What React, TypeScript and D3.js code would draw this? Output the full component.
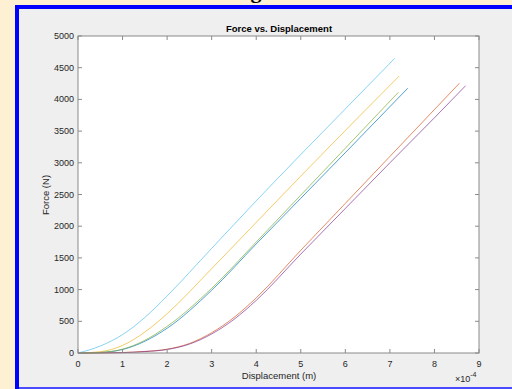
import React from "react";
import * as d3 from "d3";

// displacement in units of 1e-4 m, force in N
const cyanX = [0, 0.5, 1, 1.5, 2, 3, 4, 5, 6, 7.11];
const cyanY = [0, 110, 290, 560, 900, 1650, 2400, 3130, 3850, 4648];
const yellowX = [0, 0.5, 1, 1.5, 2, 3, 4, 5, 6, 7.21];
const yellowY = [0, 20, 120, 330, 620, 1330, 2060, 2790, 3510, 4369];
const greenX = [0, 0.5, 1, 1.5, 2, 3, 4, 5, 6, 7.19];
const greenY = [0, 10, 60, 200, 420, 1020, 1750, 2490, 3230, 4112];
const blueX = [0, 0.5, 1, 1.5, 2, 3, 4, 5, 6, 7.4];
const blueY = [0, 8, 55, 185, 390, 990, 1720, 2440, 3160, 4175];
const orangeX = [0, 0.5, 1, 1.5, 2, 2.5, 3, 3.5, 4, 5, 6, 7, 8, 8.56];
const orangeY = [0, 2, 8, 25, 60, 150, 320, 560, 870, 1620, 2360, 3100, 3840, 4254];
const purpleX = [0, 0.5, 1, 1.5, 2, 2.5, 3, 3.5, 4, 5, 6, 7, 8, 8.7];
const purpleY = [0, 1, 6, 22, 55, 140, 300, 530, 830, 1560, 2280, 3000, 3710, 4216];

const seriesNames = ["blue", "orange", "yellow", "purple", "green", "cyan"];
const seriesColors = ["#0072BD", "#D95319", "#EDB120", "#7E2F8E", "#77AC30", "#4DBEEE"];
const seriesXs = [blueX, orangeX, yellowX, purpleX, greenX, cyanX];
const seriesYs = [blueY, orangeY, yellowY, purpleY, greenY, cyanY];

const xTicks = [0, 1, 2, 3, 4, 5, 6, 7, 8, 9];
const yTicks = [0, 500, 1000, 1500, 2000, 2500, 3000, 3500, 4000, 4500, 5000];

export default function App() {
  const W = 512, H = 389;
  const left = 78, right = 479, top = 36, bottom = 353;
  const x = d3.scaleLinear().domain([0, 9]).range([left, right]);
  const y = d3.scaleLinear().domain([0, 5000]).range([bottom, top]);
  const font = "'Liberation Sans', Arial, Helvetica, sans-serif";
  const textColor = "#262626";
  const axisColor = "#8a8a8a";
  const line = d3
    .line<[number, number]>()
    .x((d) => x(d[0]))
    .y((d) => y(d[1]))
    .curve(d3.curveMonotoneX);

  return (
    <svg
      width={W}
      height={H}
      style={{ position: "absolute", left: 0, top: 0 }}
      fontFamily={font}
    >
      <rect x={0} y={0} width={W} height={H} fill="#fef1d3" />
      <text x={256} y={-2.5} textAnchor="middle" fontFamily="'Liberation Serif', serif" fontWeight="bold" fontSize={22} fill="#000">
        g
      </text>
      <rect x={15} y={5} width={W - 15} height={H - 5} fill="#0000ff" />
      <rect x={19} y={9} width={W - 19} height={378} fill="#efefef" />
      <rect x={19} y={387} width={W - 19} height={2} fill="#4a4aff" />

      <rect x={left} y={top} width={right - left} height={bottom - top} fill="#ffffff" />

      {seriesNames.map((n, i) => (
        <path
          key={n}
          d={line(seriesXs[i].map((v, j) => [v, seriesYs[i][j]]) as [number, number][]) || ""}
          fill="none"
          stroke={seriesColors[i]}
          strokeWidth={0.9}
          strokeOpacity={0.75}
        />
      ))}

      <rect x={left} y={top} width={right - left} height={bottom - top} fill="none" stroke={axisColor} strokeWidth={1} />

      {xTicks.map((t) => (
        <g key={"x" + t}>
          <line x1={x(t)} x2={x(t)} y1={bottom} y2={bottom - 4} stroke={axisColor} />
          <line x1={x(t)} x2={x(t)} y1={top} y2={top + 4} stroke={axisColor} />
          <text x={x(t)} y={367} textAnchor="middle" fontSize={9} fill={textColor}>
            {t}
          </text>
        </g>
      ))}
      {yTicks.map((t) => (
        <g key={"y" + t}>
          <line x1={left} x2={left + 4} y1={y(t)} y2={y(t)} stroke={axisColor} />
          <line x1={right} x2={right - 4} y1={y(t)} y2={y(t)} stroke={axisColor} />
          <text x={74} y={y(t) + 3} textAnchor="end" fontSize={9} fill={textColor}>
            {t}
          </text>
        </g>
      ))}

      <text x={279} y={32} textAnchor="middle" fontSize={9.5} fontWeight="bold" fill="#000">
        Force vs. Displacement
      </text>
      <text x={279} y={378.5} textAnchor="middle" fontSize={9.5} fill={textColor}>
        Displacement (m)
      </text>
      <text
        transform={`translate(49,195) rotate(-90)`}
        textAnchor="middle"
        fontSize={9.5}
        fill={textColor}
      >
        Force (N)
      </text>
      <text x={455} y={382} fontSize={9} fill={textColor}>
        ×10
        <tspan dy={-5} fontSize={7}>-4</tspan>
      </text>
    </svg>
  );
}
